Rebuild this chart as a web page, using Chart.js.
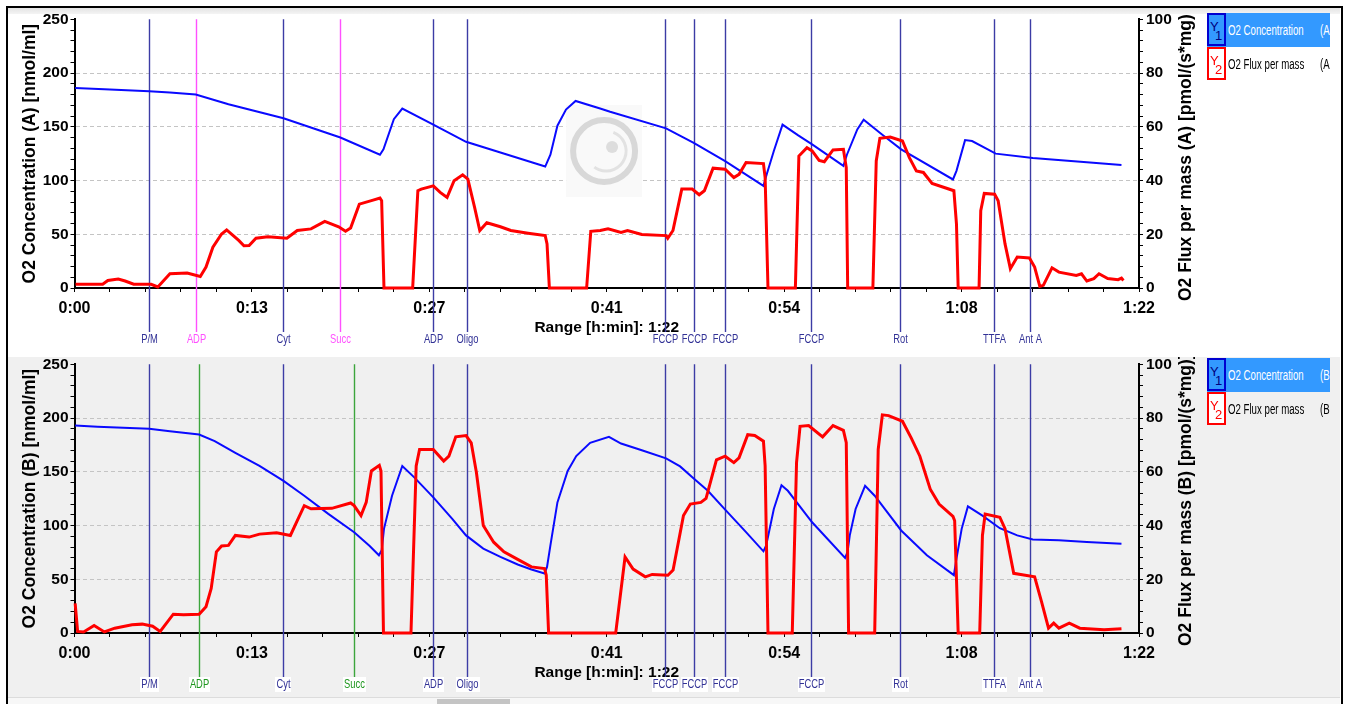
<!DOCTYPE html>
<html>
<head>
<meta charset="utf-8">
<script src="https://cdn.jsdelivr.net/npm/chart.js@4.4.1/dist/chart.umd.min.js"></script>
<style>
body { margin: 0; width: 1347px; height: 704px; overflow: hidden; position: relative; background: #fff; font-family: 'Liberation Sans', Arial, sans-serif; }
canvas { position: absolute; left: 0; }
#c1 { top: 7px; z-index: 1; }
#c2 { top: 352px; z-index: 1; }
#bg2 { position: absolute; left: 8px; top: 355px; width: 1332px; height: 342px; background: #f0f0f0; }
#band { position: absolute; left: 8px; top: 8px; width: 1332px; height: 6px; background: linear-gradient(#e4e4e4, #f4f4f4); z-index: 2; }
#gap { position: absolute; left: 8px; top: 352px; width: 1332px; height: 5px; background: #fff; z-index: 2; }
#foot { position: absolute; left: 8px; top: 697px; width: 1332px; height: 7px; background: #f7f7f7; border-top: 1px solid #dcdcdc; z-index: 2; }
#tab { position: absolute; left: 437px; top: 699px; width: 73px; height: 5px; background: #c4c4c4; z-index: 3; }
#frame { position: absolute; left: 6px; top: 6px; width: 1337px; height: 760px; border: 2px solid #000; box-sizing: border-box; z-index: 4; }
.leg { position: absolute; left: 1207px; width: 123px; overflow: hidden; z-index: 3; }
.row { position: relative; height: 34px; color: #000; }
.row.sel { background: rgb(51,153,255); color: #fff; }
.ic { position: absolute; left: 0; top: 0; width: 19px; height: 33px; box-sizing: border-box; border: 2px solid; font-size: 13px; }
.ic.b { border-color: #0000d0; color: #000080; background: rgb(51,153,255); }
.ic.r { border-color: #ff0000; color: #ff0000; background: #fff; }
.ic .y { position: absolute; left: 1px; top: 4px; }
.ic .n { position: absolute; left: 6px; top: 13px; }
.tx, .ax { position: absolute; top: 9px; font-size: 14px; white-space: nowrap; transform: scaleX(0.69); transform-origin: left center; }
.tx { left: 21px; }
.ax { left: 113px; }
</style>
</head>
<body>
<div id="bg2"></div>
<canvas id="c1" width="1347" height="345"></canvas>
<canvas id="c2" width="1347" height="352"></canvas>
<div id="band"></div>
<div id="gap"></div>
<div id="foot"></div>
<div id="tab"></div>
<div class="leg" style="top:13px">
  <div class="row sel"><span class="ic b"><span class="y">Y</span><span class="n">1</span></span><span class="tx">O2 Concentration</span><span class="ax">(A</span></div>
  <div class="row"><span class="ic r"><span class="y">Y</span><span class="n">2</span></span><span class="tx">O2 Flux per mass</span><span class="ax">(A</span></div>
</div>
<div class="leg" style="top:358px">
  <div class="row sel"><span class="ic b"><span class="y">Y</span><span class="n">1</span></span><span class="tx">O2 Concentration</span><span class="ax">(B</span></div>
  <div class="row"><span class="ic r"><span class="y">Y</span><span class="n">2</span></span><span class="tx">O2 Flux per mass</span><span class="ax">(B</span></div>
</div>
<div id="frame"></div>
<script>
// time in minutes
var o2A = [[0.05,186],[2.3,185],[5.75,183],[7.35,182],[9.34,180],[11.86,171],[16.1,158],[20.48,140],[23.53,124],[23.8,129],[24.6,157],[25.25,167],[27.64,152],[30.16,136],[36.26,113],[36.66,124],[37.2,151],[37.86,166],[38.6,174],[40.49,167],[41.26,164],[45.57,148.5],[47.7,135],[50.12,118],[53.07,95],[53.33,106],[53.87,127.5],[54.54,152],[55.75,142],[56.82,133.6],[59.23,113.6],[59.5,124],[60.3,147.5],[60.79,156.5],[62.18,143],[63.68,129],[67.67,101],[67.94,109],[68.6,137.6],[69.14,136.7],[70.96,125],[73.82,121],[77.98,117],[80.65,114.5]];

var fluxA = [[0.08,1.4],[2.17,1.4],[2.57,2.8],[3.37,3.3],[3.9,2.6],[4.56,1.4],[5.9,1.4],[6.42,0.4],[7.35,5.3],[8.68,5.6],[9.69,4.3],[10.13,7.8],[10.66,15.2],[11.33,20.1],[11.72,21.6],[12.65,17.7],[13.05,15.7],[13.45,15.8],[13.98,18.5],[14.9,19.1],[16.36,18.5],[17.16,21.4],[18.22,22],[19.28,24.8],[20.35,22.8],[20.88,21.1],[21.27,22.3],[21.94,31.2],[23.0,32.7],[23.53,33.5],[23.66,32.5],[23.84,0],[26.05,0],[26.45,36.2],[26.71,36.8],[27.64,38],[28.17,35.6],[28.7,33.7],[29.24,39.9],[29.9,42.1],[30.3,40.5],[30.82,30],[31.22,21.4],[31.76,24.3],[32.81,22.8],[33.61,21.4],[34.94,20.4],[36.26,19.5],[36.4,16.4],[36.58,0],[39.45,0],[39.77,21.1],[40.5,21.4],[41.1,22],[42.1,20.7],[42.6,21.4],[43.7,19.9],[45.57,19.5],[45.7,18.5],[46.1,21.4],[46.78,36.8],[47.58,36.8],[48.12,34.7],[48.52,36.2],[49.19,44.6],[50.12,44.2],[50.79,41.1],[51.19,42.3],[51.73,46.7],[53.07,46.3],[53.2,41.1],[53.42,0],[55.53,0],[55.8,49.1],[56.42,52.2],[56.82,51],[57.36,47.5],[57.76,47],[58.43,51.4],[59.23,51.6],[59.45,44.8],[59.56,0],[61.5,0],[61.76,47.3],[62.04,55.7],[62.84,56.2],[63.78,54.7],[64.31,48.5],[64.85,43.6],[65.39,43],[66.06,38.9],[67.0,37.4],[67.74,36.2],[67.94,23.8],[68.07,0],[69.68,0],[69.81,28.8],[70.08,35.2],[70.88,34.9],[71.15,32.5],[71.68,16.4],[72.09,7.2],[72.62,11.5],[73.56,11.2],[73.96,7.8],[74.36,0.6],[74.63,1],[75.3,7.5],[75.83,5.9],[77.17,4.7],[77.57,5.3],[77.98,2.6],[78.52,3.5],[78.92,5.3],[79.59,3.5],[80.39,3.1],[80.65,3.7],[80.8,2.8]];

var o2B = [[0.05,193],[1.77,192],[5.75,190],[7.35,187.7],[9.6,184.6],[10.8,178.5],[12.39,167.7],[14.25,155.4],[16.1,141.5],[17.7,127.7],[19.55,110.8],[21.54,93.8],[22.74,80.9],[23.45,72.3],[23.66,76.9],[23.84,96.9],[24.46,127.7],[25.25,155.4],[26.19,144.6],[27.64,126.2],[29.1,106.2],[30.16,90.8],[31.49,78.5],[32.81,70.8],[34.14,63.7],[35.2,59.1],[36.21,55.4],[36.4,61.5],[36.66,81.5],[37.2,121.5],[37.99,150.8],[38.65,164.6],[39.72,176.9],[41.17,182.5],[42.1,176.3],[43.7,170],[45.57,162.5],[46.65,155],[47.7,143.7],[48.79,132.3],[50.12,114.8],[51.73,93.8],[53.07,76],[53.28,81.5],[53.47,92.3],[53.87,115.4],[54.46,137.5],[54.95,132.3],[56.82,103],[59.36,69.8],[59.55,75.4],[59.72,90.8],[60.17,115.4],[60.9,137],[61.64,127.7],[63.68,95.4],[65.66,72.3],[67.74,53.8],[67.94,69.2],[68.34,96.9],[68.82,117.8],[69.94,109.2],[71.28,97.5],[72.62,90.8],[73.82,87.1],[75.83,86.2],[77.98,84.6],[80.65,83]];

var fluxB = [[0.05,11],[0.24,0.6],[0.7,0.4],[1.51,2.8],[2.3,0.4],[3.1,1.8],[4.43,3.1],[5.22,3.3],[6.02,2.5],[6.6,0.6],[7.61,7],[8.4,6.8],[9.6,7],[10.13,9.8],[10.53,16.6],[10.93,30.2],[11.33,32.4],[11.86,32.6],[12.39,36.3],[13.45,35.7],[14.25,36.8],[15.57,37.3],[16.63,36.3],[17.16,41.8],[17.7,47.4],[18.22,46.2],[19.82,46.4],[21.27,48.4],[21.54,47.4],[22.07,43.7],[22.47,48.6],[22.87,60.3],[23.48,62.4],[23.61,60.3],[23.8,0],[25.92,0],[26.32,62.2],[26.58,68.3],[27.64,68.3],[28.44,64],[28.84,65.8],[29.37,73],[30.16,73.5],[30.56,70.8],[30.96,59.7],[31.49,40],[32.29,33.8],[33.08,30.2],[34.14,27.4],[35.2,24.6],[36.21,24],[36.34,21.5],[36.52,0],[41.69,0],[42.41,28.3],[43.03,23.8],[43.97,20.9],[44.5,21.8],[45.71,21.5],[46.11,23.4],[46.91,43.7],[47.44,48],[48.25,48.6],[48.65,50.1],[49.45,64.4],[50.12,65.8],[50.79,63.4],[51.19,65.2],[51.86,73.8],[52.4,73.5],[53.07,71.4],[53.2,62.2],[53.42,0],[55.29,0],[55.62,63.4],[55.89,76.9],[56.55,77.2],[57.63,73],[58.43,77.2],[59.23,75.4],[59.45,70.8],[59.63,0],[61.64,0],[61.91,68.3],[62.23,81.2],[62.71,80.9],[63.78,78.8],[64.45,72.6],[65.12,65.8],[65.92,53.5],[66.6,48],[67.67,43.4],[67.8,41.8],[68.07,0],[69.73,0],[69.94,36.3],[70.15,44.3],[71.28,43.1],[71.68,38.8],[72.35,22.2],[72.89,21.8],[73.96,20.9],[74.49,11.7],[75.03,1.8],[75.43,3.7],[75.83,1.8],[76.63,3.7],[77.44,1.8],[79.31,1.2],[80.65,1.6]];

var eventNames = ['P/M', 'ADP', 'Cyt', 'Succ', 'ADP', 'Oligo', 'FCCP', 'FCCP', 'FCCP', 'FCCP', 'Rot', 'TTFA', 'Ant A'];
var eventTimesA = [5.74, 9.36, 16.06, 20.45, 27.62, 30.24, 45.49, 47.73, 50.1, 56.7, 63.6, 70.8, 73.6];
var eventTimesB = [5.74, 9.59, 16.06, 21.53, 27.62, 30.24, 45.49, 47.73, 50.1, 56.7, 63.6, 70.8, 73.6];

var xMax = 82;
var xTickLabels = ['0:00', '0:13', '0:27', '0:41', '0:54', '1:08', '1:22'];
var leftTicks = [0, 50, 100, 150, 200, 250];
var rightTicks = [0, 20, 40, 60, 80, 100];

var colors = {
    o2: 'rgb(10, 10, 255)',
    flux: 'rgb(255, 0, 0)',
    event: 'rgb(60, 60, 165)',
    eventText: 'rgb(50, 50, 150)',
    magenta: 'rgb(255, 80, 255)',
    green: 'rgb(60, 165, 60)',
    greenText: 'rgb(30, 150, 30)',
    grid: '#c4c4c4'
};

var FONT = "'Liberation Sans', Arial, sans-serif";

function toXY(arr) {
    return arr.map(function (p) { return { x: p[0], y: p[1] }; });
}

// minor ticks: 5 per labelled interval
function ticksFrom(major) {
    var out = [];
    for (var i = 0; i < major.length - 1; i++) {
        var step = (major[i + 1] - major[i]) / 5;
        for (var k = 0; k < 5; k++) out.push(major[i] + k * step);
    }
    out.push(major[major.length - 1]);
    return out;
}

var eventPlugin = {
    id: 'events',
    beforeDatasetsDraw: function (chart, args, opts) {
        if (!opts.times) return;
        var ctx = chart.ctx, xs = chart.scales.x, area = chart.chartArea;
        ctx.save();
        if (opts.logo) {
            var cx = area.left + (area.right - area.left) * 0.4975;
            var cy = area.top + (area.bottom - area.top) * 0.49;
            ctx.fillStyle = '#f9f9f9';
            ctx.fillRect(cx - 38, cy - 46, 76, 92);
            ctx.strokeStyle = '#d8d8d8';
            ctx.lineWidth = 6;
            ctx.beginPath(); ctx.arc(cx, cy, 31, 0, Math.PI * 2); ctx.stroke();
            ctx.strokeStyle = '#e2e2e2';
            ctx.lineWidth = 3;
            ctx.beginPath(); ctx.arc(cx + 2, cy, 20, -1.2, 2.2); ctx.stroke();
            ctx.fillStyle = '#dddddd';
            ctx.beginPath(); ctx.arc(cx + 8, cy - 4, 6, 0, Math.PI * 2); ctx.fill();
        }
        var xs2 = opts.times.map(function (t) { return Math.round(xs.getPixelForValue(t)) + 0.5; });
        ctx.lineWidth = 1.4;
        xs2.forEach(function (px, i) {
            ctx.strokeStyle = opts.lineColors[i];
            ctx.beginPath();
            ctx.moveTo(px, area.top);
            ctx.lineTo(px, area.bottom + 44);
            ctx.stroke();
        });
        ctx.font = '13px ' + FONT;
        ctx.textAlign = 'center';
        ctx.textBaseline = 'middle';
        xs2.forEach(function (px, i) {
            var w = ctx.measureText(opts.names[i]).width * 0.72;
            ctx.fillStyle = opts.boxColor;
            ctx.fillRect(Math.round(px - w / 2 - 1), area.bottom + 44, Math.round(w + 2), 15);
            ctx.fillStyle = opts.textColors[i];
            ctx.save();
            ctx.translate(px, area.bottom + 51.5);
            ctx.scale(0.72, 1);
            ctx.fillText(opts.names[i], 0, 0);
            ctx.restore();
        });
        ctx.restore();
    },
    // right axis title reads bottom-to-top, like the left one
    afterDraw: function (chart, args, opts) {
        if (!opts.rightTitle) return;
        var ctx = chart.ctx, yr = chart.scales.yR, area = chart.chartArea;
        ctx.save();
        ctx.translate(yr.right - 13, (area.top + area.bottom) / 2 + 1);
        ctx.rotate(-Math.PI / 2);
        ctx.font = 'bold 17.5px ' + FONT;
        ctx.fillStyle = '#000';
        ctx.textAlign = 'center';
        ctx.textBaseline = 'middle';
        ctx.fillText(opts.rightTitle, 0, 0);
        ctx.restore();
    }
};

function createConfig(o2, flux, tag, times, accent, accentText, logo, padBottom) {
    var lineColors = eventNames.map(function (n, i) { return (i === 1 || i === 3) ? accent : colors.event; });
    var textColors = eventNames.map(function (n, i) { return (i === 1 || i === 3) ? accentText : colors.eventText; });
    return {
        type: 'line',
        data: {
            datasets: [{
                label: 'O2 Flux per mass (' + tag + ')',
                data: toXY(flux),
                borderColor: colors.flux,
                borderWidth: 3,
                pointRadius: 0,
                tension: 0,
                clip: 3,
                yAxisID: 'yR'
            }, {
                label: 'O2 Concentration (' + tag + ')',
                data: toXY(o2),
                borderColor: colors.o2,
                borderWidth: 2,
                pointRadius: 0,
                tension: 0,
                clip: 3,
                yAxisID: 'yL'
            }]
        },
        options: {
            responsive: false,
            animation: false,
            events: [],
            layout: { padding: { top: 10, left: 8, right: 148, bottom: padBottom } },
            plugins: {
                legend: { display: false },
                tooltip: { enabled: false },
                events: {
                    times: times, names: eventNames, lineColors: lineColors, textColors: textColors,
                    boxColor: '#ffffff', logo: logo,
                    rightTitle: 'O2 Flux per mass (' + tag + ') [pmol/(s*mg)]'
                }
            },
            scales: {
                x: {
                    type: 'linear', min: 0, max: xMax,
                    afterFit: function (s) { s.height = 64; },
                    afterBuildTicks: function (s) {
                        var major = xTickLabels.map(function (l, i) { return i * xMax / (xTickLabels.length - 1); });
                        s.ticks = ticksFrom(major).map(function (v) { return { value: v }; });
                    },
                    ticks: {
                        autoSkip: false, maxRotation: 0, padding: 7, color: '#000',
                        font: { family: FONT, size: 16, weight: 'bold' },
                        callback: function (v, i) { return i % 5 === 0 ? xTickLabels[i / 5] : ''; }
                    },
                    grid: { drawOnChartArea: false, tickLength: 4, tickColor: '#000' },
                    border: { color: '#000', width: 2 },
                    title: {
                        display: true, text: 'Range [h:min]: 1:22', color: '#000',
                        font: { family: FONT, size: 15.5, weight: 'bold' },
                        padding: { top: 0, bottom: 15 }
                    }
                },
                yL: {
                    position: 'left', min: 0, max: 250,
                    afterFit: function (s) { s.width = 66.5; },
                    afterBuildTicks: function (s) {
                        s.ticks = ticksFrom(leftTicks).map(function (v) { return { value: v }; });
                    },
                    ticks: {
                        autoSkip: false, padding: 2, color: '#000',
                        font: { family: FONT, size: 15.5, weight: 'bold' },
                        callback: function (v) { return leftTicks.indexOf(v) >= 0 ? String(v) : ''; }
                    },
                    grid: {
                        tickLength: 4, tickColor: '#000',
                        color: function (c) {
                            var v = c.tick ? c.tick.value : -1;
                            return (v > 0 && v < 250 && leftTicks.indexOf(v) >= 0) ? colors.grid : 'rgba(0,0,0,0)';
                        }
                    },
                    border: { color: '#000', width: 2, dash: [4, 3] },
                    title: {
                        display: true, text: 'O2 Concentration (' + tag + ') [nmol/ml]', color: '#000',
                        font: { family: FONT, size: 17.5, weight: 'bold' },
                        padding: { top: 12, bottom: 0 }
                    }
                },
                yR: {
                    position: 'right', min: 0, max: 100,
                    afterFit: function (s) { s.width = 60; },
                    afterBuildTicks: function (s) {
                        s.ticks = ticksFrom(rightTicks).map(function (v) { return { value: v }; });
                    },
                    ticks: {
                        autoSkip: false, padding: 3, color: '#000',
                        font: { family: FONT, size: 15.5, weight: 'bold' },
                        callback: function (v) { return rightTicks.indexOf(v) >= 0 ? String(v) : ''; }
                    },
                    grid: { drawOnChartArea: false, tickLength: 4, tickColor: '#000' },
                    border: { color: '#000', width: 2 },
                    title: { display: false }
                }
            }
        },
        plugins: [eventPlugin]
    };
}

window.charts = {
    a: new Chart(document.getElementById('c1').getContext('2d'),
        createConfig(o2A, fluxA, 'A', eventTimesA, colors.magenta, colors.magenta, true, 0)),
    b: new Chart(document.getElementById('c2').getContext('2d'),
        createConfig(o2B, fluxB, 'B', eventTimesB, colors.green, colors.greenText, false, 7))
};
</script>
</body>
</html>
